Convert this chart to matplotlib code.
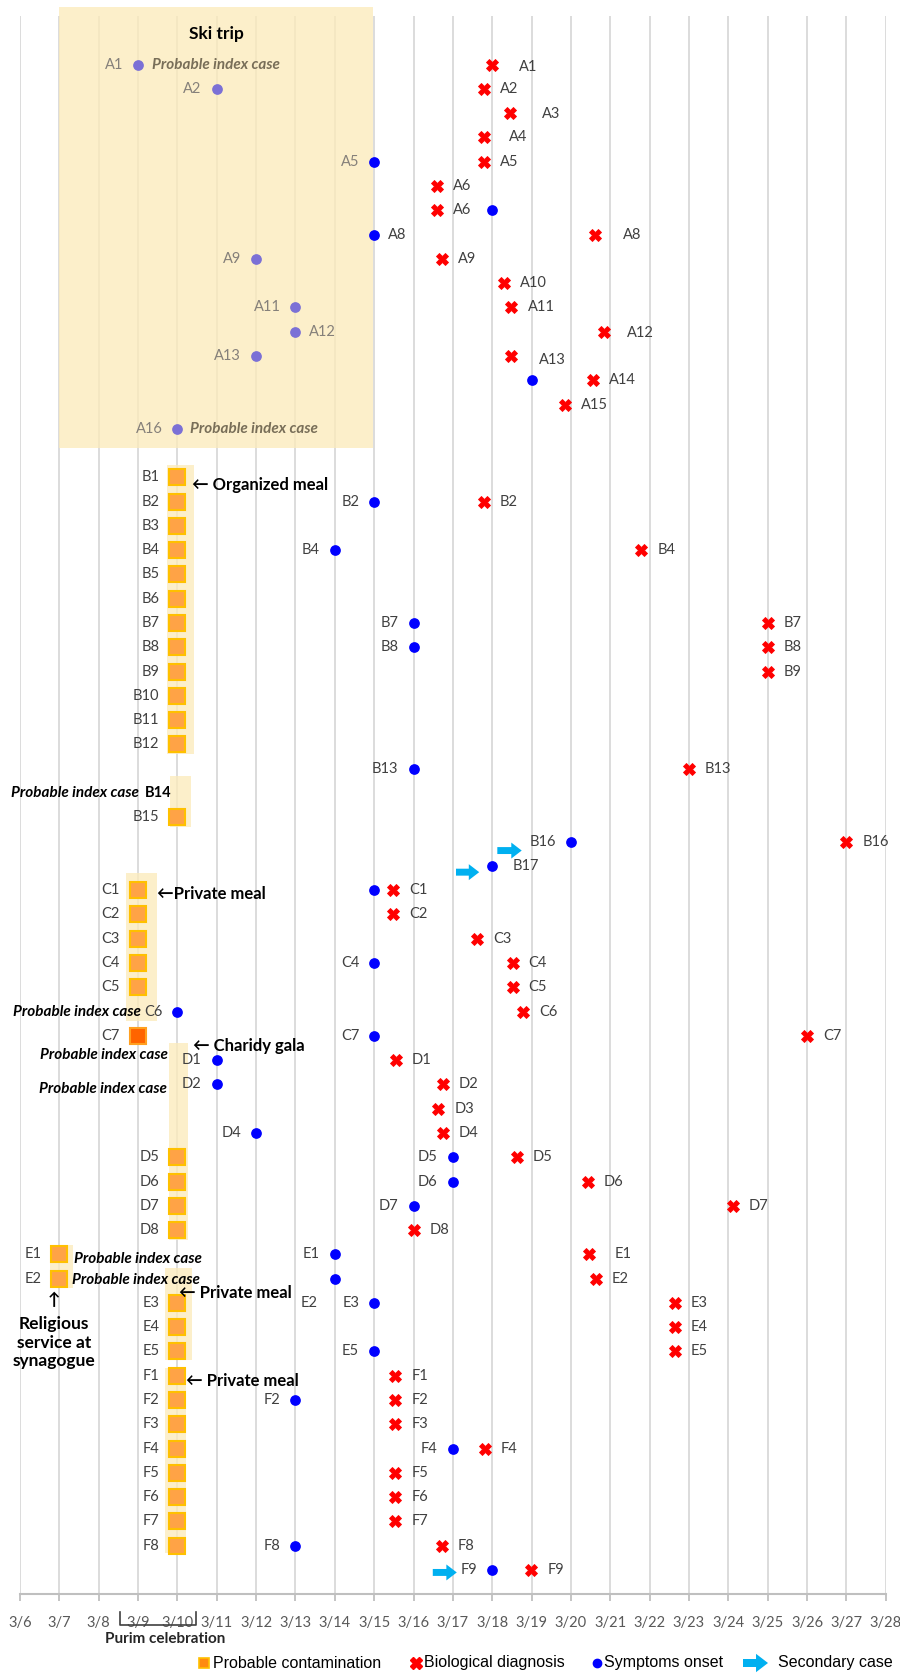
import numpy as np
import matplotlib
matplotlib.use('Agg')
import matplotlib.pyplot as plt
from matplotlib.patches import Rectangle, FancyArrowPatch, ArrowStyle
from matplotlib.lines import Line2D

nan = np.nan

# ---------------- data ----------------
a_cases = ['A1', 'A2', 'A3', 'A4', 'A5', 'A6', 'A6', 'A8', 'A9', 'A10', 'A11', 'A12', 'A13', 'A14', 'A15', 'A16']
a_contam = [nan] * 16
a_onset = [9, 11, nan, nan, 15, nan, 18, 15, 12, nan, 13, 13, 12, 19, nan, 10]
a_diag = [18.0, 17.8, 18.46, 17.79, 17.78, 16.59, 16.59, 20.6, 16.72, 18.29, 18.49, 20.84, 18.48, 20.55, 19.84, nan]

gap_cases = ['']
gap_contam = [nan]
gap_onset = [nan]
gap_diag = [nan]

b_cases = ['B%d' % i for i in range(1, 18)]
b_contam = [10, 10, 10, 10, 10, 10, 10, 10, 10, 10, 10, 10, nan, nan, 10, nan, nan]
b_onset = [nan, 15, nan, 14, nan, nan, 16, 16, nan, nan, nan, nan, 16, nan, nan, 20, 18]
b_diag = [nan, 17.78, nan, 21.79, nan, nan, 25, 25, 25, nan, nan, nan, 23.0, nan, nan, 27.0, nan]

c_cases = ['C%d' % i for i in range(1, 8)]
c_contam = [9, 9, 9, 9, 9, nan, 9]
c_onset = [15, nan, nan, 15, nan, 10, 15]
c_diag = [15.49, 15.49, 17.61, 18.52, 18.52, 18.79, 26.0]

d_cases = ['D%d' % i for i in range(1, 9)]
d_contam = [nan, nan, nan, nan, 10, 10, 10, 10]
d_onset = [11, 11, nan, 12, 17, 17, 16, nan]
d_diag = [15.55, 16.74, 16.63, 16.74, 18.62, 20.43, 24.11, 16.0]

e_cases = ['E%d' % i for i in range(1, 6)]
e_contam = [7, 7, 10, 10, 10]
e_onset = [14, 14, 15, nan, 15]
e_diag = [20.47, 20.64, 22.64, 22.64, 22.64]

f_cases = ['F%d' % i for i in range(1, 10)]
f_contam = [10, 10, 10, 10, 10, 10, 10, 10, nan]
f_onset = [nan, 13, nan, 17, nan, nan, nan, 13, 18]
f_diag = [15.54, 15.54, 15.54, 17.82, 15.54, 15.54, 15.54, 16.72, 18.99]

secondary_cases = ['B16', 'B17', 'F9']
secondary_from = [18.13, 17.08, 16.49]
secondary_to = [18.75, 17.67, 17.10]

days = list(range(6, 29))
tick_labels = ['3/%d' % d for d in days]

cases = a_cases + gap_cases + b_cases + c_cases + d_cases + e_cases + f_cases
contam = np.array(a_contam + gap_contam + b_contam + c_contam + d_contam + e_contam + f_contam, float)
onset = np.array(a_onset + gap_onset + b_onset + c_onset + d_onset + e_onset + f_onset, float)
diag = np.array(a_diag + gap_diag + b_diag + c_diag + d_diag + e_diag + f_diag, float)
rows = np.arange(len(cases))
row_of = {}
for i, c in enumerate(cases):
    row_of.setdefault(c, i)
row_of['F9'] = len(cases) - 1

# ---------------- style / layout ----------------
W, H = 900, 1673
plt.rcParams['font.family'] = ['Lato', 'DejaVu Sans']
LABEL_C = '#404040'
TRIP_LABEL_C = '#85807A'
TRIP_TEXT_C = '#786E58'
BLUE = '#0000FF'
PURPLE = '#7B70D6'
RED = '#FF0000'
SQ_FC, SQ_EC = '#FFA346', '#FFC000'
SQ_DARK = '#FF6400'
YELLOW = '#FCEBBB'
ARROW_C = '#00B0F0'
TRIP_X1, TRIP_Y1 = 14.96, 15.8

fig = plt.figure(figsize=(W / 100, H / 100), dpi=100)
x0p, x1p, y0p, y1p = 20, 885.7, 16, 1594.3
ax = fig.add_axes([x0p / W, 1 - y1p / H, (x1p - x0p) / W, (y1p - y0p) / H])
ax.set_xlim(days[0], days[-1])
ax.set_ylim(63, -2)
ax.set_xticks(days)
ax.set_xticklabels(tick_labels)
ax.set_yticks([])
ax.grid(axis='x', color='#D9D9D9', lw=1.3)
ax.set_axisbelow(True)
for s in ['top', 'left', 'right']:
    ax.spines[s].set_visible(False)
ax.spines['bottom'].set_color('#BFBFBF')
ax.spines['bottom'].set_linewidth(1.5)
ax.tick_params(axis='x', length=5, width=1.3, color='#BFBFBF', labelcolor='#595959',
               labelsize=10.5, pad=10.5)

# highlighted blocks (x0, x1, y0, y1)
blocks = [(7.0, TRIP_X1, -2.36, TRIP_Y1), (9.73, 10.42, 16.5, 28.4), (9.8, 10.34, 29.3, 31.4),
          (8.69, 9.47, 33.3, 39.4), (9.79, 10.26, 40.3, 48.4), (6.76, 7.34, 48.6, 50.4),
          (9.68, 10.36, 49.56, 53.36), (9.68, 10.22, 53.7, 61.3)]
for bx0, bx1, by0, by1 in blocks:
    ax.add_patch(Rectangle((bx0, by0), bx1 - bx0, by1 - by0, fc=YELLOW, ec='none',
                           alpha=0.78, zorder=1, clip_on=False))


def in_trip(x, r):
    return r <= TRIP_Y1 and x < TRIP_X1


# markers
m = ~np.isnan(contam)
dark = np.array([c == 'C7' for c in cases])
ax.plot(contam[m & ~dark], rows[m & ~dark], ls='none', marker='s', ms=11, mfc=SQ_FC, mec=SQ_EC,
        mew=1.5, zorder=3)
ax.plot(contam[m & dark], rows[m & dark], ls='none', marker='s', ms=11, mfc=SQ_DARK, mec='#FFA020',
        mew=1.5, zorder=3)
m = ~np.isnan(onset)
trip = np.array([in_trip(x, r) for x, r in zip(onset, rows)])
ax.plot(onset[m & ~trip], rows[m & ~trip], ls='none', marker='o', ms=6.7, color=BLUE, zorder=3)
ax.plot(onset[m & trip], rows[m & trip], ls='none', marker='o', ms=6.7, color=PURPLE, zorder=3)
m = ~np.isnan(diag)
ax.plot(diag[m], rows[m], ls='none', marker='X', ms=8.5, color=RED, mec=RED, mew=0.6, zorder=3)


def label(x, y, s, dx, dy=0, ha='left', color=LABEL_C, **kw):
    ax.annotate(s, (x, y), xytext=(dx, -dy), textcoords='offset pixels', ha=ha, va='center',
                fontsize=10.5, color=color, zorder=5, annotation_clip=False, **kw)


# label layout tweaks
onset_no_label = {6, 13, 34}
onset_right = {7: 14, 11: 14, 33: 20}
onset_nudge = {50: (-2, 24)}
diag_nudge = {0: (11, 2), 2: (16, 1), 3: (9, 0), 7: (12, 0), 11: (7, 1), 12: (12, 4), 49: (9, 0)}

for r in rows:
    name = cases[r]
    if not np.isnan(contam[r]):
        label(contam[r], r, name, -18, ha='right')
    if not np.isnan(onset[r]) and r not in onset_no_label:
        x = onset[r]
        if r in onset_right:
            label(x, r, name, onset_right[r], ha='left',
                  color=TRIP_LABEL_C if in_trip(x + 0.5, r) else LABEL_C)
        else:
            dx, dy = onset_nudge.get(r, (0, 0))
            label(x, r, name, -15 + dx, dy, ha='right',
                  color=TRIP_LABEL_C if in_trip(x - 0.3, r) else LABEL_C)
    if not np.isnan(diag[r]):
        dx, dy = diag_nudge.get(r, (0, 0))
        label(diag[r], r, name, 16 + dx, dy, ha='left')

# secondary case arrows
sec_dy = [0.37, 0.26, 0.1]


def block_arrow(p0, p1, transform, scale=10):
    a = FancyArrowPatch(p0, p1, transform=transform, shrinkA=0, shrinkB=0,
                        arrowstyle=ArrowStyle.Simple(head_length=0.75, head_width=1.15, tail_width=0.5),
                        mutation_scale=scale, fc=ARROW_C, ec='none', zorder=4, clip_on=False)
    fig.add_artist(a) if transform is fig.transFigure else ax.add_patch(a)


for c, xa, xb, dy in zip(secondary_cases, secondary_from, secondary_to, sec_dy):
    r = row_of[c]
    block_arrow((xa, r + dy), (xb, r + dy), ax.transData)

# annotations
BOLD = dict(fontweight='bold', color='black', zorder=5, annotation_clip=False)
ax.annotate('Ski trip', (11.0, -1.27), ha='center', va='center', fontsize=12.5, **BOLD)
idx_style = dict(fontweight='bold', style='italic', fontsize=11, va='center', zorder=5)
index_texts = [(9.35, 0, 'left', TRIP_TEXT_C), (10.32, 15, 'left', TRIP_TEXT_C),
               (9.02, 30, 'right', 'black'), (9.07, 39, 'right', 'black'),
               (9.77, 40.8, 'right', 'black'), (9.73, 42.2, 'right', 'black'),
               (7.37, 49.2, 'left', 'black'), (7.33, 50.04, 'left', 'black')]
for x, y, ha, col in index_texts:
    ax.text(x, y, 'Probable index case', ha=ha, color=col, clip_on=False, **idx_style)
ax.text(9.85, 30, 'B14', ha='right', va='center', fontsize=10.5, fontweight='bold', color='black',
        zorder=5)

event_texts = [('\u2190 Organized meal', 10.38, 17.33), ('\u2190Private meal', 9.47, 34.15),
               ('\u2190 Charidy gala', 10.40, 40.41), ('\u2190 Private meal', 10.05, 50.59),
               ('\u2190 Private meal', 10.22, 54.2)]
for s, x, y in event_texts:
    ax.text(x, y, s, ha='left', va='center', fontsize=12, fontweight='bold', color='black', zorder=5)

ax.text(6.86, 50.9, '\u2191', ha='center', va='center', fontsize=12, fontweight='bold', zorder=5)
ax.text(6.86, 52.64, 'Religious\nservice at\nsynagogue', ha='center', va='center', fontsize=12.5,
        fontweight='bold', linespacing=1.2, zorder=5)

# Purim bracket under the axis
bx = [8.54, 8.54, 10.46, 10.46]
by = [63.72, 64.27, 64.27, 63.72]
ax.plot(bx, by, color='#404040', lw=1.2, clip_on=False)
ax.text(9.68, 64.85, 'Purim celebration', ha='center', va='center', fontsize=11, fontweight='bold',
        color='#262626', clip_on=False)

# legend
ly = 1 - 1663 / H
LEG = dict(va='center', ha='left', family=['Liberation Sans', 'DejaVu Sans'], fontsize=11.5)
fig.add_artist(Line2D([204 / W], [ly], transform=fig.transFigure, ls='none', marker='s', ms=7.5,
                      mfc='#FF8A10', mec=SQ_EC, mew=1.2))
fig.text(213 / W, ly, 'Probable contamination', **LEG)
fig.add_artist(Line2D([416 / W], [ly], transform=fig.transFigure, ls='none', marker='X', ms=8,
                      color=RED, mec=RED))
fig.text(424 / W, ly, 'Biological diagnosis', **LEG)
fig.add_artist(Line2D([597 / W], [ly], transform=fig.transFigure, ls='none', marker='o', ms=6,
                      color=BLUE))
fig.text(604 / W, ly, 'Symptoms onset', **LEG)
block_arrow((743 / W, ly), (768 / W, ly), fig.transFigure, scale=11.5)
fig.text(778 / W, ly, 'Secondary case', **LEG)

fig.savefig('out.png', dpi=100)
